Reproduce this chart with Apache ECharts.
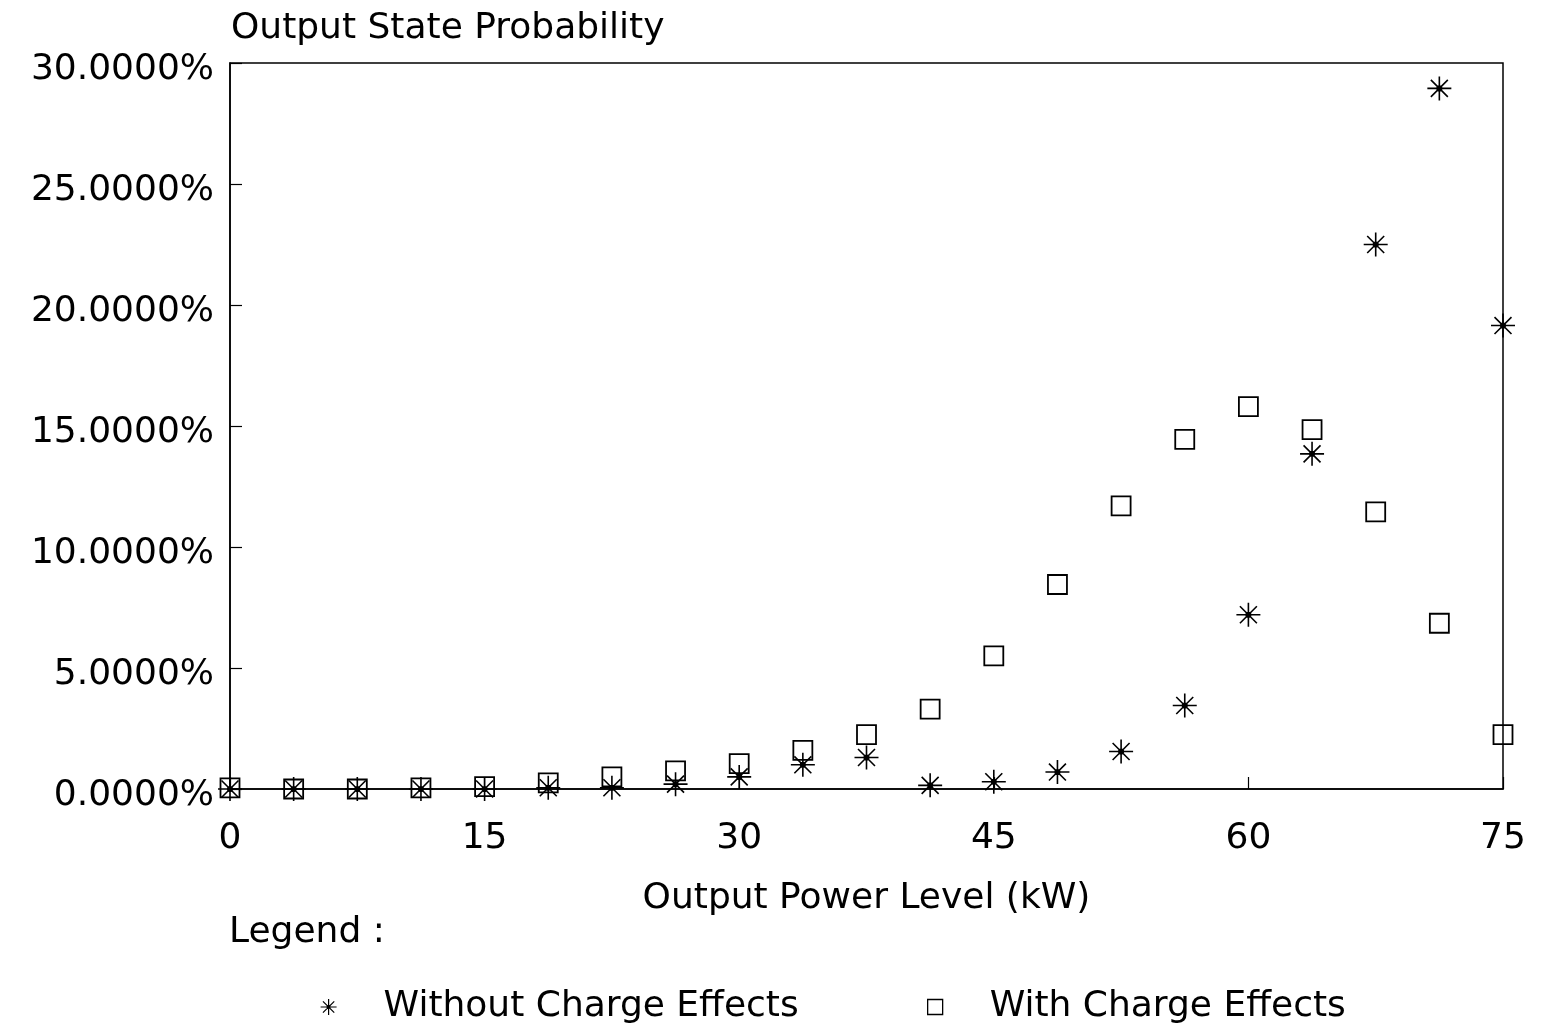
<!DOCTYPE html>
<html>
<head>
<meta charset="utf-8">
<script src="https://cdn.jsdelivr.net/npm/echarts@6/dist/echarts.min.js"></script>
<style>html,body{margin:0;padding:0;background:#fff}#c{width:1541px;height:1029px}</style>
</head>
<body>
<div id="c"></div>
<script>
var xValues = [0, 3.75, 7.5, 11.25, 15, 18.75, 22.5, 26.25, 30, 33.75, 37.5, 41.25, 45, 48.75, 52.5, 56.25, 60, 63.75, 67.5, 71.25, 75];
var withoutCharge = [0.0, 0.0, 0.0, 0.0, 0.0, 0.05, 0.05, 0.2, 0.5, 1.0, 1.3, 0.15, 0.3, 0.7, 1.55, 3.45, 7.2, 13.85, 22.5, 28.95, 19.15];
var withCharge = [0.05, 0.0, 0.0, 0.05, 0.1, 0.25, 0.5, 0.75, 1.05, 1.6, 2.25, 3.3, 5.5, 8.45, 11.7, 14.45, 15.8, 14.85, 11.45, 6.85, 2.25];
var xTicks = [0, 15, 30, 45, 60, 75];
var yTicks = [0, 5, 10, 15, 20, 25, 30];
var seriesNames = ['Without Charge Effects', 'With Charge Effects'];

var FONT = 'DejaVu Sans';
var starPath = 'path://M0 -10L0 10M-10 0L10 0M-7.07 -7.07L7.07 7.07M-7.07 7.07L7.07 -7.07M-1.9 0A1.9 1.9 0 1 0 1.9 0A1.9 1.9 0 1 0 -1.9 0Z';

function pairs(ys) { return xValues.map(function (x, i) { return [x, ys[i]]; }); }

var legendText = { fontFamily: FONT, fontSize: 36, color: '#000', padding: [0, 0, 0, 42] };

var chart = echarts.init(document.getElementById('c'), null, { renderer: 'canvas' });
chart.setOption({
  backgroundColor: '#fff',
  animation: false,
  title: {
    text: 'Output State Probability',
    left: 226, top: 6,
    textStyle: { fontFamily: FONT, fontSize: 36, fontWeight: 'normal', color: '#000' }
  },
  graphic: [{
    type: 'text', left: 229, top: 915,
    style: { text: 'Legend :', fontFamily: FONT, fontSize: 36, fill: '#000' }
  }],
  legend: [
    {
      top: 984, left: 315,
      itemWidth: 16, itemHeight: 16,
      textStyle: legendText,
      data: [{ name: seriesNames[0], icon: starPath, itemStyle: { color: '#000', borderColor: '#000', borderWidth: 1.2 } }]
    },
    {
      top: 984, left: 922,
      itemWidth: 15, itemHeight: 15,
      textStyle: legendText,
      data: [{ name: seriesNames[1], icon: 'rect', itemStyle: { color: 'transparent', borderColor: '#000', borderWidth: 1.3 } }]
    }
  ],
  grid: { left: 230, right: 38, top: 63, bottom: 240, show: true, borderColor: '#000', borderWidth: 1.5, backgroundColor: 'transparent' },
  xAxis: {
    type: 'value', min: 0, max: 75, interval: 15,
    name: 'Output Power Level (kW)', nameLocation: 'middle', nameGap: 92,
    nameTextStyle: { fontFamily: FONT, fontSize: 36, color: '#000' },
    axisLine: { show: true, onZero: true, lineStyle: { color: '#000', width: 1.5 } },
    axisTick: { show: true, inside: true, length: 12, lineStyle: { color: '#000', width: 1.2 } },
    splitLine: { show: false },
    axisLabel: { margin: 32, fontFamily: FONT, fontSize: 36, color: '#000',
      customValues: xTicks }
  },
  yAxis: {
    type: 'value', min: 0, max: 30, interval: 5,
    axisLine: { show: true, lineStyle: { color: '#000', width: 1.5 } },
    axisTick: { show: true, inside: true, length: 12, lineStyle: { color: '#000', width: 1.2 } },
    splitLine: { show: false },
    axisLabel: { margin: 16, color: '#000',
      customValues: yTicks,
      formatter: function (v) { return '{a|' + v.toFixed(4) + '%}'; },
      rich: { a: { fontFamily: FONT, fontSize: 36, color: '#000', padding: [14, 0, 0, 0] } } }
  },
  series: [
    {
      name: seriesNames[0], type: 'scatter', data: pairs(withoutCharge),
      symbol: starPath, symbolSize: 24,
      itemStyle: { color: '#000', borderColor: '#000', borderWidth: 1.6, opacity: 1 },
      z: 3
    },
    {
      name: seriesNames[1], type: 'scatter', data: pairs(withCharge),
      symbol: 'rect', symbolSize: 19,
      itemStyle: { color: 'transparent', borderColor: '#000', borderWidth: 1.8, opacity: 1 },
      z: 4
    }
  ]
});
</script>
</body>
</html>
